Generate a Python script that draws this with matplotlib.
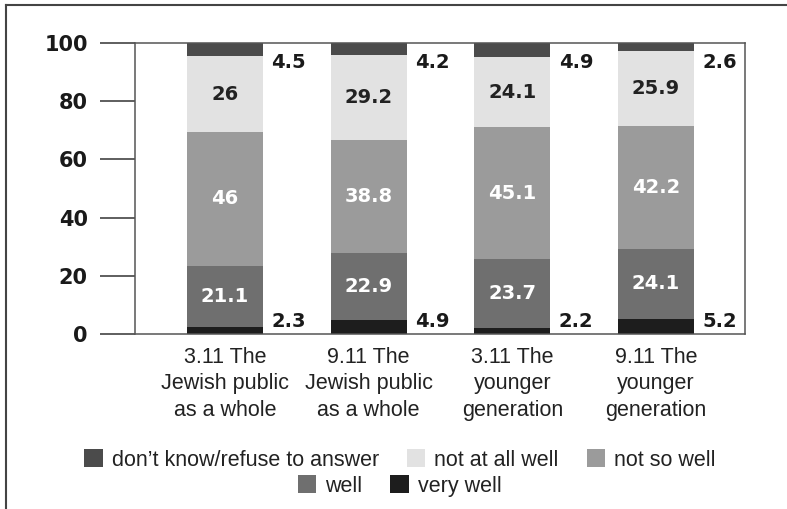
import matplotlib
matplotlib.use('Agg')
import matplotlib.pyplot as plt
from matplotlib.lines import Line2D

# categories along the x axis
categories = ["3.11 The\nJewish public\nas a whole", "9.11 The\nJewish public\nas a whole",
              "3.11 The\nyounger\ngeneration", "9.11 The\nyounger\ngeneration"]

# stacked from the bottom up
very_well = [2.3, 4.9, 2.2, 5.2]
well = [21.1, 22.9, 23.7, 24.1]
not_so_well = [46, 38.8, 45.1, 42.2]
not_at_all_well = [26, 29.2, 24.1, 25.9]
dont_know = [4.5, 4.2, 4.9, 2.6]

series_names = ["very well", "well", "not so well", "not at all well", "don\u2019t know/refuse to answer"]
series_vals = [very_well, well, not_so_well, not_at_all_well, dont_know]
colors = ["#1d1d1d", "#6f6f6f", "#9b9b9b", "#e2e2e2", "#4b4b4b"]
label_colors = [None, "white", "white", "#222222", None]

fig = plt.figure(figsize=(7.87, 5.09), dpi=100)
ax = fig.add_axes([0.1715, 0.3438, 0.775, 0.5717])

r = list(range(len(categories)))
barWidth = 0.53
bottom = [0 for i in r]
bars = {}
for name, vals, col in zip(series_names, series_vals, colors):
	bars[name] = ax.bar(r, vals, bottom=bottom, width=barWidth, color=col, edgecolor='none', label=name)
	bottom = [x + y for x, y in zip(bottom, vals)]

# values printed inside the middle segments
bottom = [0 for i in r]
for vals, lc in zip(series_vals, label_colors):
	if lc is not None:
		for i, v in enumerate(vals):
			ax.text(i, bottom[i] + v / 2, '{:g}'.format(v), ha='center', va='center',
				color=lc, fontsize=14, fontweight='bold', family='DejaVu Sans')
	bottom = [x + y for x, y in zip(bottom, vals)]

# top and bottom segments are labelled beside the bar
for i in r:
	ax.annotate('{:g}'.format(dont_know[i]), (i + barWidth / 2, 100), xytext=(6, -7),
		textcoords='offset points', ha='left', va='top', fontsize=14, fontweight='bold', color='#1a1a1a')
	ax.annotate('{:g}'.format(very_well[i]), (i + barWidth / 2, 0), xytext=(6, 2),
		textcoords='offset points', ha='left', va='bottom', fontsize=14, fontweight='bold', color='#1a1a1a')

ax.set_xlim(-0.626, 3.619)
ax.set_ylim(0, 100)
ax.set_yticks([0, 20, 40, 60, 80, 100])
ax.set_yticklabels(['0', '20', '40', '60', '80', '100'], fontsize=15, fontweight='bold', color='#1a1a1a')
ax.tick_params(axis='y', length=25, width=1.1, color='#333333', direction='out', pad=9)
ax.set_xticks(r)
ax.set_xticklabels(categories, fontsize=15.5, family='Liberation Sans', color='#222222', linespacing=1.35)
ax.tick_params(axis='x', length=0, pad=9)
for s in ax.spines.values():
	s.set_color('#555555')
	s.set_linewidth(1.1)

# legend: two centred rows
order = ["don\u2019t know/refuse to answer", "not at all well", "not so well", "well", "very well"]
kw = dict(frameon=False, handlelength=0.85, handleheight=0.85, handletextpad=0.42, columnspacing=1.3,
	prop={'family': 'Liberation Sans', 'size': 15.5}, borderpad=0, labelcolor='#222222')
leg1 = fig.legend([bars[n] for n in order[:3]], order[:3], loc='center', bbox_to_anchor=(0.508, 1 - 460 / 509), ncol=3, **kw)
leg2 = fig.legend([bars[n] for n in order[3:]], order[3:], loc='center', bbox_to_anchor=(0.508, 1 - 486 / 509), ncol=2, **kw)

# outer frame lines
fig.add_artist(Line2D([6 / 787, 6 / 787], [0, 1 - 5 / 509], transform=fig.transFigure, color='#444444', lw=1.5))
fig.add_artist(Line2D([6 / 787, 1], [1 - 5 / 509, 1 - 5 / 509], transform=fig.transFigure, color='#444444', lw=1.5))

plt.savefig('out.png', dpi=100)
